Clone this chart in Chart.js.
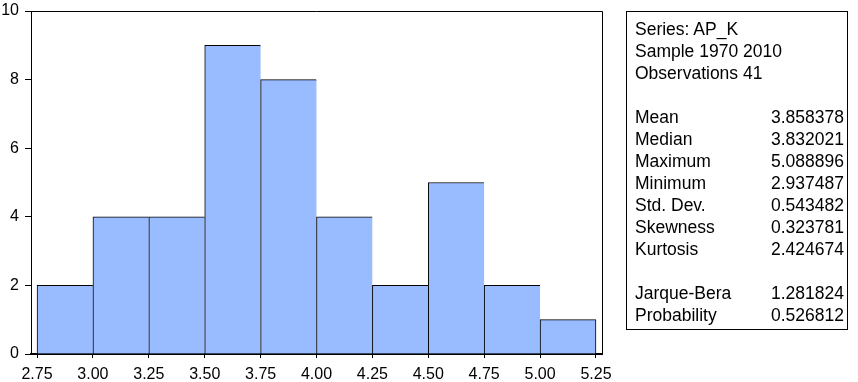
<!DOCTYPE html>
<html>
<head>
<meta charset="utf-8">
<script src="https://cdn.jsdelivr.net/npm/chart.js@4.4.1/dist/chart.umd.min.js"></script>
<style>
  body { margin: 0; background: #fff; }
  #wrap { position: relative; width: 858px; height: 382px; }
  #stats {
    position: absolute;
    left: 626px;
    top: 11px;
    width: 222px;
    height: 319px;
    border: 1px solid #000;
    box-sizing: border-box;
    padding: 6px 3px 0 8px;
    font-family: "Liberation Sans", Arial, sans-serif;
    font-size: 17.5px;
    line-height: 22px;
    color: #000;
  }
  #stats .row { display: flex; justify-content: space-between; height: 22px; }
</style>
</head>
<body>
<div id="wrap">
  <canvas id="hist" width="858" height="382"></canvas>
  <div id="stats"></div>
</div>
<script>
// histogram bins (centres) and counts
const binCenters = [2.875, 3.125, 3.375, 3.625, 3.875, 4.125, 4.375, 4.625, 4.875, 5.125];
const counts = [2, 4, 4, 9, 8, 4, 2, 5, 2, 1];
const xTicks = [2.75, 3.0, 3.25, 3.5, 3.75, 4.0, 4.25, 4.5, 4.75, 5.0, 5.25];
const yTicks = [0, 2, 4, 6, 8, 10];

const headerLines = ["Series: AP_K", "Sample 1970 2010", "Observations 41"];
const statNames = ["Mean", "Median", "Maximum", "Minimum", "Std. Dev.", "Skewness", "Kurtosis"];
const statValues = ["3.858378", "3.832021", "5.088896", "2.937487", "0.543482", "0.323781", "2.424674"];
const testNames = ["Jarque-Bera", "Probability"];
const testValues = ["1.281824", "0.526812"];

// stats box
const stats = document.getElementById("stats");
function addRow(left, right) {
  const row = document.createElement("div");
  row.className = "row";
  const a = document.createElement("span");
  a.textContent = left;
  row.appendChild(a);
  if (right !== undefined) {
    const b = document.createElement("span");
    b.textContent = right;
    row.appendChild(b);
  }
  stats.appendChild(row);
}
headerLines.forEach((t) => addRow(t));
addRow("");
statNames.forEach((n, i) => addRow(n, statValues[i]));
addRow("");
testNames.forEach((n, i) => addRow(n, testValues[i]));

const fontSpec = { family: "'Liberation Sans', Arial, sans-serif", size: 16 };
const xPad = 0.027; // small gap between frame and first/last bin

// frame around the plot area (top and right edges)
const framePlugin = {
  id: "frame",
  afterDraw(chart) {
    const { ctx, chartArea } = chart;
    ctx.save();
    ctx.strokeStyle = "#000";
    ctx.lineWidth = 1;
    ctx.beginPath();
    ctx.moveTo(chartArea.left, chartArea.top + 0.5);
    ctx.lineTo(chartArea.right + 0.5, chartArea.top + 0.5);
    ctx.lineTo(chartArea.right + 0.5, chartArea.bottom);
    ctx.stroke();
    ctx.restore();
  },
};

new Chart(document.getElementById("hist"), {
  type: "bar",
  data: {
    datasets: [
      {
        data: binCenters.map((x, i) => ({ x: x, y: counts[i] })),
        backgroundColor: "#99bbff",
        borderColor: "#000",
        borderSkipped: false,
        borderWidth: (ctx) => ({
          left: 1,
          top: 1,
          bottom: 0,
          right: ctx.dataIndex === counts.length - 1 ? 1 : 0,
        }),
        barPercentage: 1.0,
        categoryPercentage: 1.0,
      },
    ],
  },
  options: {
    responsive: false,
    animation: false,
    layout: {
      padding: { left: 0, right: 256, top: 11, bottom: 0 },
    },
    plugins: {
      legend: { display: false },
      tooltip: { enabled: false },
    },
    scales: {
      x: {
        type: "linear",
        offset: false,
        min: xTicks[0] - xPad,
        max: xTicks[xTicks.length - 1] + xPad,
        afterBuildTicks: (scale) => {
          scale.ticks = xTicks.map((v) => ({ value: v }));
        },
        afterFit: (scale) => {
          scale.height = 28;
          scale.paddingLeft = 0;
          scale.paddingRight = 0;
        },
        grid: {
          offset: false,
          drawOnChartArea: false,
          drawTicks: true,
          tickLength: 4,
          color: "#000",
        },
        border: { display: true, color: "#000", width: 2 },
        ticks: {
          color: "#000",
          font: fontSpec,
          padding: 7,
          maxRotation: 0,
          autoSkip: false,
          callback: (v) => v.toFixed(2),
        },
      },
      y: {
        min: 0,
        max: 10,
        afterBuildTicks: (scale) => {
          scale.ticks = yTicks.map((v) => ({ value: v }));
        },
        afterFit: (scale) => {
          scale.width = 31;
          scale.paddingTop = 0;
          scale.paddingBottom = 0;
        },
        grid: {
          drawOnChartArea: false,
          drawTicks: true,
          tickLength: 6,
          color: "#000",
        },
        border: { display: true, color: "#000", width: 1 },
        ticks: {
          color: "#000",
          font: fontSpec,
          padding: 6,
        },
      },
    },
  },
  plugins: [framePlugin],
});
</script>
</body>
</html>
